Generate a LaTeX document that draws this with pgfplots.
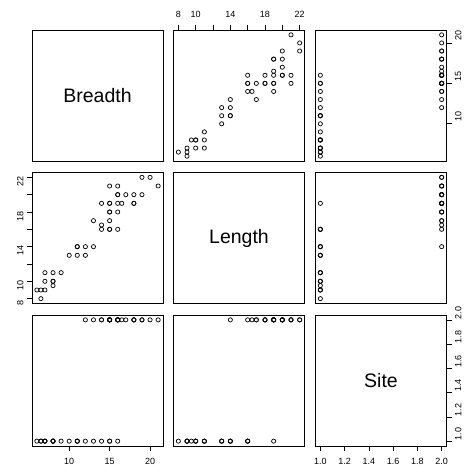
\documentclass[border=0pt]{standalone}
\usepackage{pgfplots}
\usepackage{pgfplotstable}
\usepackage{fontspec}
\setmainfont{Liberation Sans}
\pgfplotsset{compat=1.18}
\pgfplotstableread{
B L S
6.5 8 1
6 9 1
6.5 9 1
7 9 1
8 9.5 1
7 10 1
8 10 1
8 10 1
7 11 1
8 11 1
9 11 1
10 13 1
11 13 1
12 13 1
11 14 1
11 14 1
13 14 1
14 16 1
15 16 1
16 16 1
15 19 1
12 14 2
13 17 2
14 16.5 2
14 19 2
15 16 2
15 17 2
15 18 2
15 18 2
15 19 2
16 18 2
16 19 2
16.5 19 2
18 19 2
18 19 2
16 20 2
16 20 2
17 20 2
18 20 2
19 20 2
15 21 2
16 21 2
21 21 2
19 22 2
20 22 2
}\data
\tikzset{diag/.style={font=\fontsize{19.5}{22}\selectfont}}
\pgfplotsset{
  panel/.style={scale only axis, width=131pt, height=131pt, anchor=south west,
    xtick=\empty, ytick=\empty, axis line style={line width=0.8pt},
    tick align=outside, major tick length=5pt,
    tick style={black, line width=0.6pt},
    tick label style={font=\fontsize{9}{10}\selectfont},
    /pgf/number format/assume math mode=true},
  Bx/.style={xmin=5.4, xmax=21.6},
  By/.style={ymin=5.4, ymax=21.6},
  Lx/.style={xmin=7.44, xmax=22.56},
  Ly/.style={ymin=7.44, ymax=22.56},
  Sx/.style={xmin=0.96, xmax=2.04},
  Sy/.style={ymin=0.96, ymax=2.04},
  pts/.style={only marks, mark=o, mark size=2.1pt, mark options={line width=0.7pt, black}},
}
\begin{document}
\begin{tikzpicture}
\path[use as bounding box] (0,0) rectangle (466pt,471pt);
% Row 1
\begin{axis}[panel, at={(32pt,310pt)}, Bx, By]
\node[diag] at (rel axis cs:0.5,0.5) {Breadth};
\end{axis}
\begin{axis}[panel, at={(173.5pt,310pt)}, Lx, By,
  xtick={8,10,12,14,16,18,20,22}, xticklabels={8,10,,14,,18,,22},
  xtick pos=right, xticklabel pos=right, xticklabel style={yshift=4pt}]
\addplot[pts] table[x=L, y=B] {\data};
\end{axis}
\begin{axis}[panel, at={(315.5pt,310pt)}, Sx, By,
  ytick={10,15,20}, yticklabels={10,15,20},
  ytick pos=right, yticklabel pos=right,
  yticklabel style={rotate=90, anchor=north, xshift=7pt}]
\addplot[pts] table[x=S, y=B] {\data};
\end{axis}
% Row 2
\begin{axis}[panel, at={(32pt,167.5pt)}, Bx, Ly,
  ytick={8,10,12,14,16,18,20,22}, yticklabels={8,10,,14,,18,,22},
  ytick pos=left, yticklabel pos=left,
  yticklabel style={rotate=90, anchor=south, xshift=-4pt}]
\addplot[pts] table[x=B, y=L] {\data};
\end{axis}
\begin{axis}[panel, at={(173.5pt,167.5pt)}, Lx, Ly]
\node[diag] at (rel axis cs:0.5,0.5) {Length};
\end{axis}
\begin{axis}[panel, at={(315.5pt,167.5pt)}, Sx, Ly]
\addplot[pts] table[x=S, y=L] {\data};
\end{axis}
% Row 3
\begin{axis}[panel, at={(32pt,25pt)}, Bx, Sy,
  xtick={10,15,20}, xticklabels={10,15,20},
  xtick pos=left, xticklabel pos=left, xticklabel style={yshift=-4pt}]
\addplot[pts] table[x=B, y=S] {\data};
\end{axis}
\begin{axis}[panel, at={(173.5pt,25pt)}, Lx, Sy]
\addplot[pts] table[x=L, y=S] {\data};
\end{axis}
\begin{axis}[panel, at={(315.5pt,25pt)}, Sx, Sy,
  xtick={1,1.2,1.4,1.6,1.8,2}, xticklabels={1.0,1.2,1.4,1.6,1.8,2.0},
  xtick pos=left, xticklabel pos=left, xticklabel style={yshift=-4pt},
  ytick={1,1.2,1.4,1.6,1.8,2}, yticklabels={1.0,1.2,1.4,1.6,1.8,2.0},
  ytick pos=right, yticklabel pos=right,
  yticklabel style={rotate=90, anchor=north, xshift=7pt}]
\node[diag] at (rel axis cs:0.5,0.5) {Site};
\end{axis}
\end{tikzpicture}
\end{document}
